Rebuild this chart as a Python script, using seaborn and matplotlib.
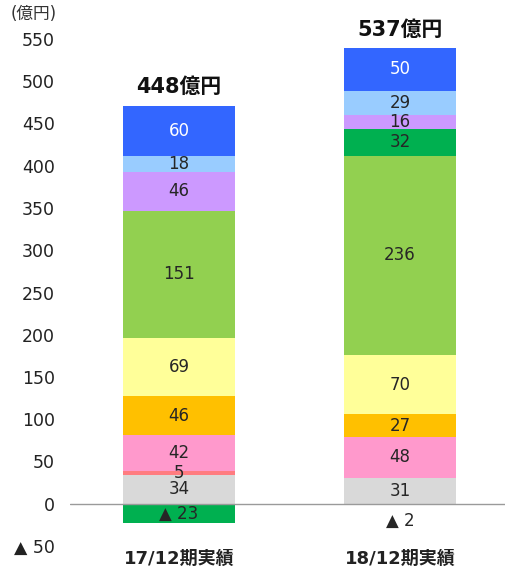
import numpy as np
import matplotlib
matplotlib.use("Agg")
import matplotlib.pyplot as plt
import seaborn as sns

# data (bottom -> top of stack)
periods = ["17/12期実績", "18/12期実績"]
gray_vals = [34, 31]
red_vals = [5, -2]
pink_vals = [42, 48]
orange_vals = [46, 27]
yellow_vals = [69, 70]
lgreen_vals = [151, 236]
dgreen_vals = [-23, 32]
purple_vals = [46, 16]
lblue_vals = [18, 29]
blue_vals = [60, 50]
totals = [448, 537]
yticks = [-50, 0, 50, 100, 150, 200, 250, 300, 350, 400, 450, 500, 550]

layers = [
    (gray_vals, "#d9d9d9", "#262626"),
    (red_vals, "#ff7c80", "#262626"),
    (pink_vals, "#ff99cc", "#262626"),
    (orange_vals, "#ffc000", "#262626"),
    (yellow_vals, "#ffff99", "#262626"),
    (lgreen_vals, "#92d050", "#262626"),
    (dgreen_vals, "#00b050", "#262626"),
    (purple_vals, "#cc99ff", "#262626"),
    (lblue_vals, "#99ccff", "#262626"),
    (blue_vals, "#3366ff", "white"),
]

sns.set_theme(style="white")
plt.rcParams["font.family"] = ["DejaVu Sans", "Noto Sans CJK JP"]

fig = plt.figure(figsize=(5.05, 5.71), dpi=100)
ax = fig.add_axes([70 / 505, 25 / 571, 435 / 505, 507 / 571])

bar_w = 0.507
pos_base = np.zeros(len(periods))
neg_base = np.zeros(len(periods))
for vals, color, tcolor in layers:
    vals = np.array(vals, dtype=float)
    bottoms = np.where(vals >= 0, pos_base, neg_base)
    sns.barplot(x=periods, y=vals, bottom=bottoms, color=color, saturation=1,
                width=bar_w, linewidth=0, ax=ax, zorder=2)
    for i, v in enumerate(vals):
        if v == 0:
            continue
        if v >= 0:
            ypos = bottoms[i] + v / 2
            txt = f"{int(v)}"
        else:
            # small negative values get their label under the bar
            ypos = bottoms[i] + v / 2 if abs(v) > 10 else -20
            txt = f"▲ {int(abs(v))}"
        ax.text(i, ypos, txt, ha="center", va="center", fontsize=12, color=tcolor, zorder=4)
    pos_base = pos_base + np.clip(vals, 0, None)
    neg_base = neg_base + np.clip(vals, None, 0)

for i, t in enumerate(totals):
    ax.text(i, pos_base[i] + 22, f"{t}億円", ha="center", va="center",
            fontsize=15, fontweight="bold", color="#111111", zorder=4)

ax.axhline(0, color="#9a9a9a", linewidth=1, zorder=3)

ax.set_ylim(-50, 550)
ax.set_xlim(-0.493, 1.475)
ax.set_yticks(yticks)
ax.set_yticklabels(["▲ 50" if y < 0 else str(y) for y in yticks], fontsize=12.5, color="#222222")
ax.tick_params(axis="y", length=0, pad=11)
ax.tick_params(axis="x", length=0, pad=3)
ax.set_xticks(range(len(periods)))
ax.set_xticklabels(periods, fontsize=13, fontweight="bold", color="#222222")
ax.set_xlabel("")
ax.set_ylabel("")
for s in ax.spines.values():
    s.set_visible(False)

fig.text(34 / 505, 1 - 14 / 571, "(億円)", ha="center", va="center", fontsize=12, color="#333333")

fig.savefig("out.png", dpi=100)
